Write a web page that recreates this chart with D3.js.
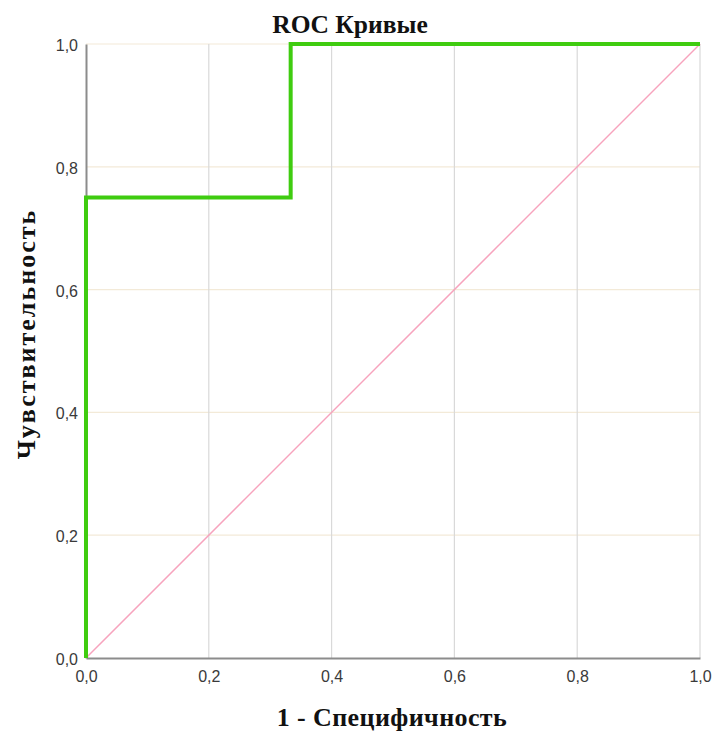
<!DOCTYPE html>
<html>
<head>
<meta charset="utf-8">
<script src="https://cdn.jsdelivr.net/npm/d3@7"></script>
<style>
  html, body { margin: 0; padding: 0; background: #fff; }
  svg text.title { font-family: "Liberation Serif", "DejaVu Serif", serif; }
  svg .tick text { font-family: "Liberation Sans", Arial, sans-serif; }
</style>
</head>
<body>
<svg id="chart" width="714" height="731"></svg>
<script>
// ROC curve points (1 - specificity, sensitivity)
const rocFpr = [0, 0, 1/3, 1/3, 1];
const rocTpr = [0, 0.75, 0.75, 1, 1];
// Reference diagonal
const refFpr = [0, 1];
const refTpr = [0, 1];
const tickValues = [0, 0.2, 0.4, 0.6, 0.8, 1.0];
const tickLabels = ["0,0", "0,2", "0,4", "0,6", "0,8", "1,0"];

(function () {
  const svg = d3.select("#chart");
  const plotLeft = 86, plotRight = 700, plotTop = 44, plotBottom = 658;

  const x = d3.scaleLinear().domain([0, 1]).range([plotLeft, plotRight]);
  const y = d3.scaleLinear().domain([0, 1]).range([plotBottom, plotTop]);
  const fmt = d => tickLabels[tickValues.findIndex(v => Math.abs(v - d) < 1e-9)];

  // Horizontal gridlines
  svg.append("g").selectAll("line").data(tickValues.slice(1)).join("line")
    .attr("x1", plotLeft).attr("x2", plotRight)
    .attr("y1", d => y(d)).attr("y2", d => y(d))
    .attr("stroke", "#f3ead8").attr("stroke-width", 1.2);

  // Vertical gridlines
  svg.append("g").selectAll("line").data(tickValues.slice(1)).join("line")
    .attr("x1", d => x(d)).attr("x2", d => x(d))
    .attr("y1", plotTop).attr("y2", plotBottom)
    .attr("stroke", "#d9d9d9").attr("stroke-width", 1.2);

  // Axes
  const xAxis = svg.append("g").attr("transform", `translate(0,${plotBottom})`)
    .call(d3.axisBottom(x).tickValues(tickValues).tickFormat(fmt).tickSize(0).tickPadding(13));
  const yAxis = svg.append("g").attr("transform", `translate(${plotLeft},0)`)
    .call(d3.axisLeft(y).tickValues(tickValues).tickFormat(fmt).tickSize(0).tickPadding(8));
  [xAxis, yAxis].forEach(a => {
    a.select(".domain").attr("stroke", "#8c8c8c").attr("stroke-width", 2);
    a.selectAll("text").attr("font-size", 16).attr("fill", "#3a3a3a");
  });
  yAxis.selectAll("text").attr("dy", "0.4em");

  // Diagonal reference line
  svg.append("path")
    .datum(refFpr.map((v, i) => [v, refTpr[i]]))
    .attr("d", d3.line().x(d => x(d[0])).y(d => y(d[1])))
    .attr("fill", "none").attr("stroke", "#f7a3bd").attr("stroke-width", 1.5);

  // ROC curve
  svg.append("path")
    .datum(rocFpr.map((v, i) => [v, rocTpr[i]]))
    .attr("d", d3.line().x(d => x(d[0])).y(d => y(d[1])))
    .attr("fill", "none").attr("stroke", "#3fcc10").attr("stroke-width", 4)
    .attr("stroke-linejoin", "miter");

  // Titles
  svg.append("text").attr("class", "title").attr("x", 350).attr("y", 33).attr("text-anchor", "middle")
    .attr("font-size", 25.5).attr("font-weight", "bold").attr("fill", "#111")
    .text("ROC Кривые");
  svg.append("text").attr("class", "title").attr("x", 392).attr("y", 726).attr("text-anchor", "middle")
    .attr("font-size", 26).attr("font-weight", "bold").attr("fill", "#111")
    .attr("letter-spacing", 0.4)
    .text("1 - Специфичность");
  svg.append("text").attr("class", "title").attr("transform", "translate(35,334) rotate(-90)")
    .attr("text-anchor", "middle")
    .attr("font-size", 26).attr("font-weight", "bold").attr("fill", "#111")
    .attr("letter-spacing", 2)
    .text("Чувствительность");
})();
</script>
</body>
</html>
